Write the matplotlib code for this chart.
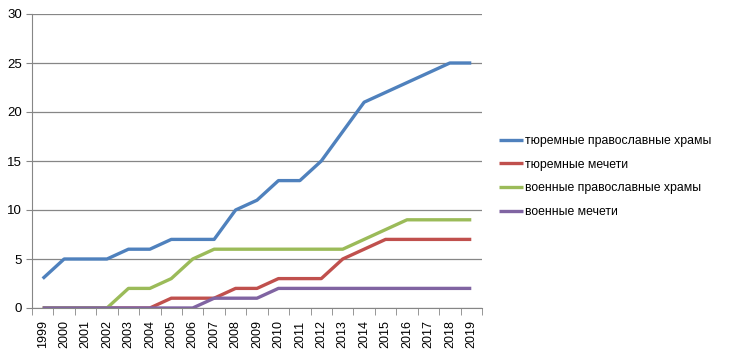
import numpy as np
import matplotlib.pyplot as plt

plt.rcParams['font.family'] = ['Liberation Sans', 'DejaVu Sans']

years = [str(y) for y in range(1999, 2020)]
prison_churches = [3, 5, 5, 5, 6, 6, 7, 7, 7, 10, 11, 13, 13, 15, 18, 21, 22, 23, 24, 25, 25]
prison_mosques = [0, 0, 0, 0, 0, 0, 1, 1, 1, 2, 2, 3, 3, 3, 5, 6, 7, 7, 7, 7, 7]
army_churches = [0, 0, 0, 0, 2, 2, 3, 5, 6, 6, 6, 6, 6, 6, 6, 7, 8, 9, 9, 9, 9]
army_mosques = [0, 0, 0, 0, 0, 0, 0, 0, 1, 1, 1, 2, 2, 2, 2, 2, 2, 2, 2, 2, 2]

series = [
    ("тюремные православные храмы", prison_churches, '#4F81BD'),
    ("тюремные мечети", prison_mosques, '#C0504D'),
    ("военные православные храмы", army_churches, '#9BBB59'),
    ("военные мечети", army_mosques, '#8064A2'),
]

fig = plt.figure(figsize=(7.31, 3.55), dpi=100)
ax = fig.add_axes([32 / 731, 47 / 355, 450 / 731, 294 / 355])

x = np.arange(len(years))
for label, vals, color in series:
    ax.plot(x, vals, color=color, linewidth=2.4, label=label, solid_capstyle='butt')

ax.set_xlim(-0.5, len(years) - 0.5)
ax.set_ylim(0, 30)
ax.set_yticks(range(0, 31, 5))
ax.yaxis.grid(True, color='#868686', linewidth=0.9)
ax.set_axisbelow(True)

ax.set_xticks(x)
ax.set_xticklabels(years, rotation=90, fontsize=9)
ax.set_xticks(np.arange(-0.5, len(years), 1), minor=True)
ax.tick_params(axis='x', which='major', length=0, pad=9)
ax.tick_params(axis='x', which='minor', length=5, color='#868686')
ax.tick_params(axis='y', length=4, color='#868686', labelsize=9.5, pad=3)

for s in ['top', 'right']:
    ax.spines[s].set_visible(False)
ax.spines['left'].set_color('#868686')
ax.spines['bottom'].set_color('#868686')

fig.legend(loc='upper left', bbox_to_anchor=(488 / 731, 1 - 124 / 355),
           frameon=False, fontsize=8.8, handlelength=2.0, handletextpad=0.1,
           labelspacing=0.95)

fig.savefig('out.png', dpi=100)
